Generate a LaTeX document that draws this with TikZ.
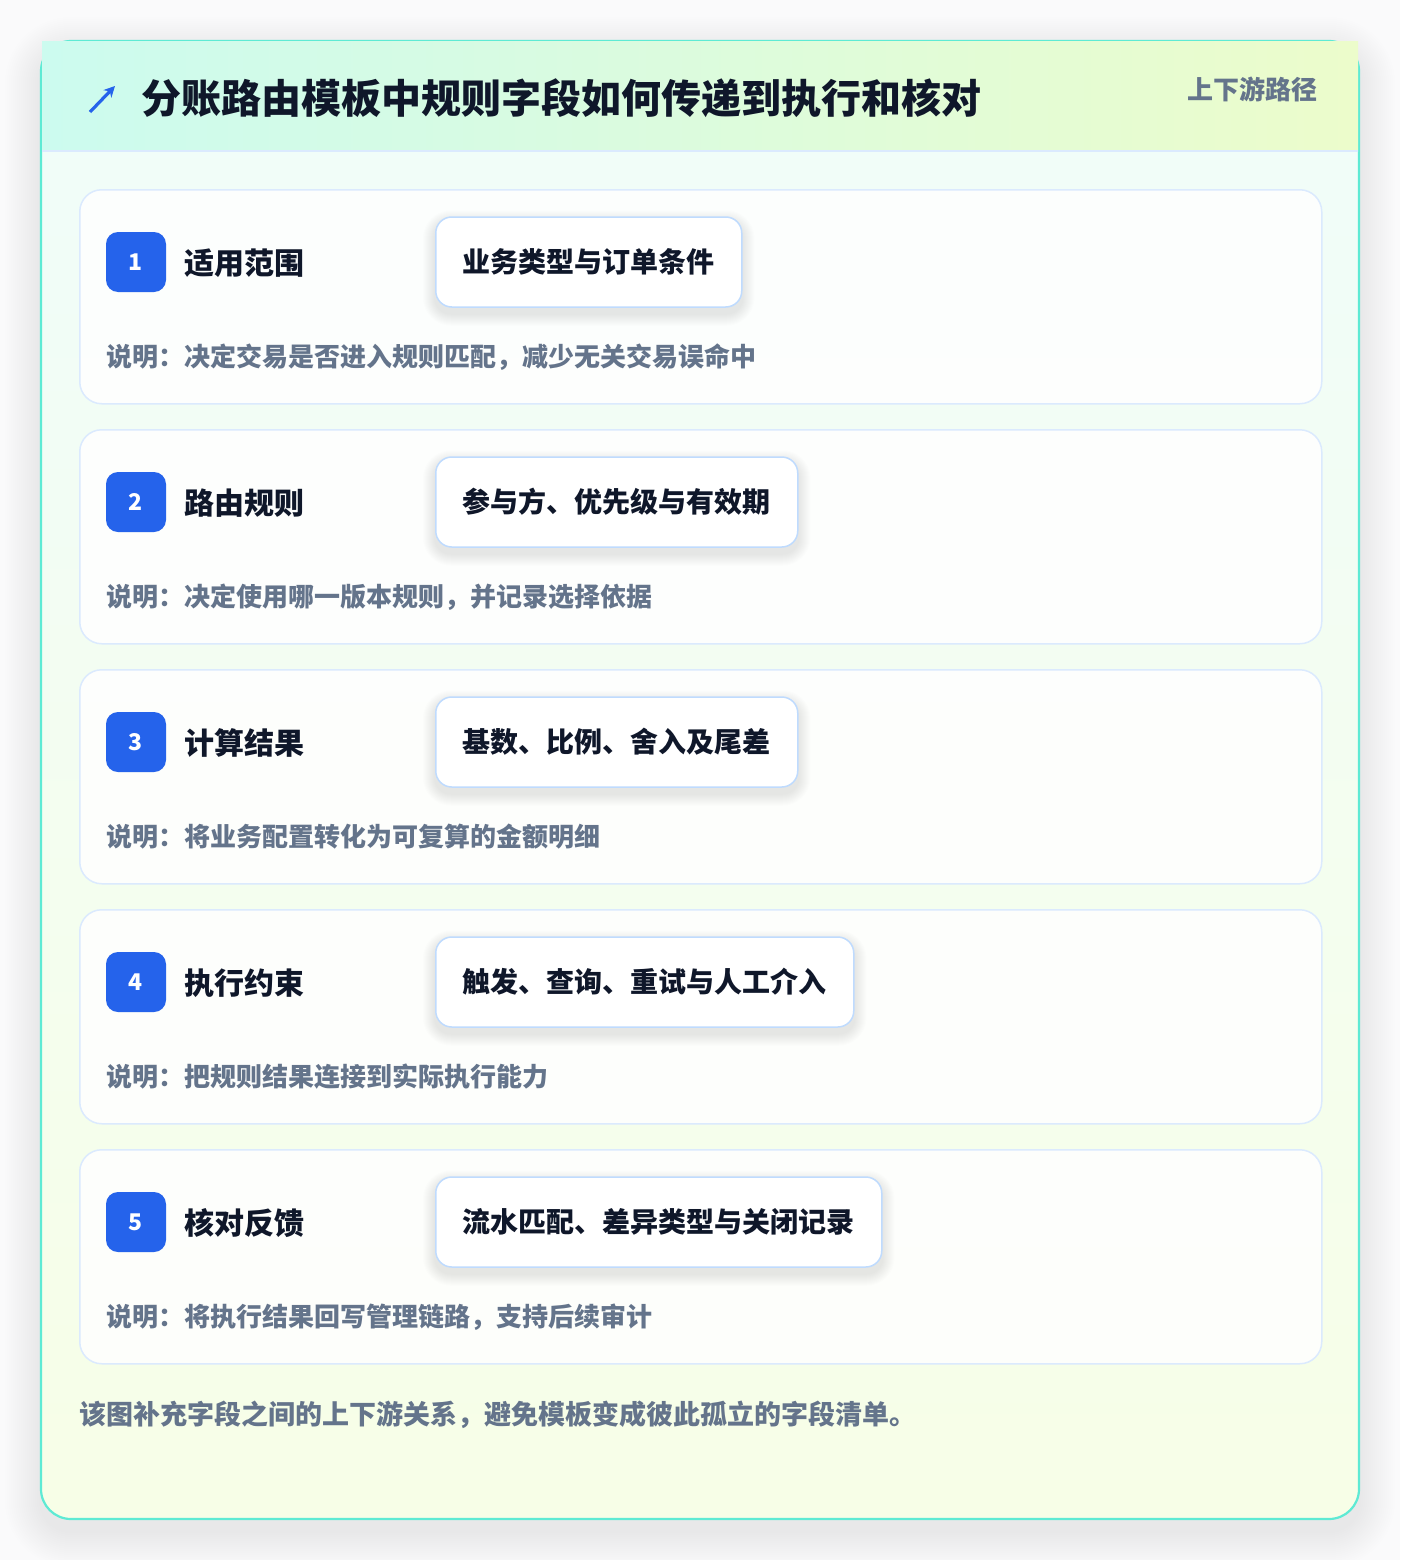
\documentclass[tikz,border=0pt]{standalone}
\usepackage{fontspec}
\setmainfont{Noto Sans CJK SC}
\usetikzlibrary{arrows.meta}
\definecolor{pagebg}{HTML}{FAFAFB}
\definecolor{bordteal}{HTML}{5EEAD4}
\definecolor{hdrL}{HTML}{CCFBEF}
\definecolor{hdrR}{HTML}{ECFCCB}
\definecolor{bodyT}{HTML}{F0FDFA}
\definecolor{bodyB}{HTML}{F7FEE7}
\definecolor{cardborder}{HTML}{DBEAFE}
\definecolor{pillborder}{HTML}{BFDBFE}
\definecolor{badgeblue}{HTML}{2563EB}
\definecolor{darktext}{HTML}{0F172A}
\definecolor{mutedtext}{HTML}{64748B}
\pgfdeclarelayer{bg}
\pgfdeclarelayer{cards}
\pgfdeclarelayer{pshadow}
\pgfsetlayers{bg,cards,pshadow,main}
\tikzset{
  cardbox/.style={draw=cardborder, line width=1.5pt, fill=white, fill opacity=0.85, text opacity=1,
    rounded corners=22pt, minimum width=1242pt, minimum height=214pt, anchor=north west, inner sep=0pt},
  badgebox/.style={fill=badgeblue, rounded corners=12pt, minimum size=60pt, inner sep=0pt, text=white,
    font=\bfseries\fontsize{23}{23}\selectfont},
  cardtitle/.style={anchor=west, inner sep=0pt, text=darktext, font=\bfseries\fontsize{30}{30}\selectfont},
  pillbox/.style={anchor=west, draw=pillborder, line width=1.5pt, fill=white, rounded corners=16pt,
    minimum height=90pt, inner xsep=27pt, inner ysep=0pt, text=darktext,
    font=\bfseries\fontsize{28}{28}\selectfont},
  desctext/.style={anchor=west, inner sep=0pt, text=mutedtext, font=\bfseries\fontsize{26}{26}\selectfont},
  softshade/.style={fill=black, opacity=#1},
}
\begin{document}
\begin{tikzpicture}[x=1pt,y=-1pt]
\useasboundingbox (0,0) rectangle (1400,1560);
\begin{pgfonlayer}{bg}
\fill[pagebg] (0,0) rectangle (1400,1560);
% outer soft shadow
\foreach \k in {1,...,18}{
  \pgfmathsetmacro\ee{2*\k}
  \pgfmathsetmacro\rr{30+2*\k}
  \fill[softshade=0.0042, rounded corners=\rr pt] (41-\ee,41-\ee+12) rectangle (1359+\ee,1519+\ee+12);
}
\shade[top color=bodyT, bottom color=bodyB, rounded corners=30pt] (41,41) rectangle (1359,1519);
\draw[bordteal, line width=2.2pt, rounded corners=30pt] (41,41) rectangle (1359,1519);
% header
\shade[left color=hdrL, right color=hdrR] (42,42) rectangle (1358,151);
\draw[cardborder, line width=1.5pt] (42,151) -- (1358,151);
\end{pgfonlayer}
\coordinate (arrS) at (90,112);
\coordinate (arrE) at (115,86);
\draw[badgeblue, line width=3.2pt, -{Stealth[length=11pt,width=11pt]}] (arrS) -- (arrE);
\node[anchor=west, inner sep=0pt, text=darktext, font=\bfseries\fontsize{40}{40}\selectfont] (title) at (141,98)
  {分账路由模板中规则字段如何传递到执行和核对};
\node[anchor=east, inner sep=0pt, text=mutedtext, font=\bfseries\fontsize{26}{26}\selectfont] (tag) at (1318,89)
  {上下游路径};
% cards
\foreach \i/\t/\p/\d in {
  1/适用范围/业务类型与订单条件/说明：决定交易是否进入规则匹配，减少无关交易误命中,
  2/路由规则/参与方、优先级与有效期/说明：决定使用哪一版本规则，并记录选择依据,
  3/计算结果/基数、比例、舍入及尾差/说明：将业务配置转化为可复算的金额明细,
  4/执行约束/触发、查询、重试与人工介入/说明：把规则结果连接到实际执行能力,
  5/核对反馈/流水匹配、差异类型与关闭记录/说明：将执行结果回写管理链路，支持后续审计}{
  \pgfmathsetmacro\yy{189+240*(\i-1)}
  \begin{pgfonlayer}{cards}
  \node[cardbox] (card\i) at (79,\yy) {};
  \end{pgfonlayer}
  \node[badgebox] (badge\i) at (136,\yy+73) {\i};
  \node[cardtitle] (ctitle\i) at (184,\yy+74) {\t};
  \node[pillbox] (pill\i) at (435,\yy+73) {\p};
  \node[desctext] (desc\i) at (106,\yy+168) {\d};
  \begin{pgfonlayer}{pshadow}
  \foreach \k in {1,...,12}{
    \pgfmathsetmacro\rr{16+\k}
    \fill[softshade=0.0075, rounded corners=\rr pt]
      ([xshift=-\k pt, yshift=-6pt-\k pt]pill\i.south west) rectangle ([xshift=\k pt, yshift=-6pt+\k pt]pill\i.north east);
  }
  \end{pgfonlayer}
}
\node[anchor=west, inner sep=0pt, text=mutedtext, font=\bfseries\fontsize{27}{27}\selectfont] (foot) at (79,1415)
  {该图补充字段之间的上下游关系，避免模板变成彼此孤立的字段清单。};
\end{tikzpicture}
\end{document}
